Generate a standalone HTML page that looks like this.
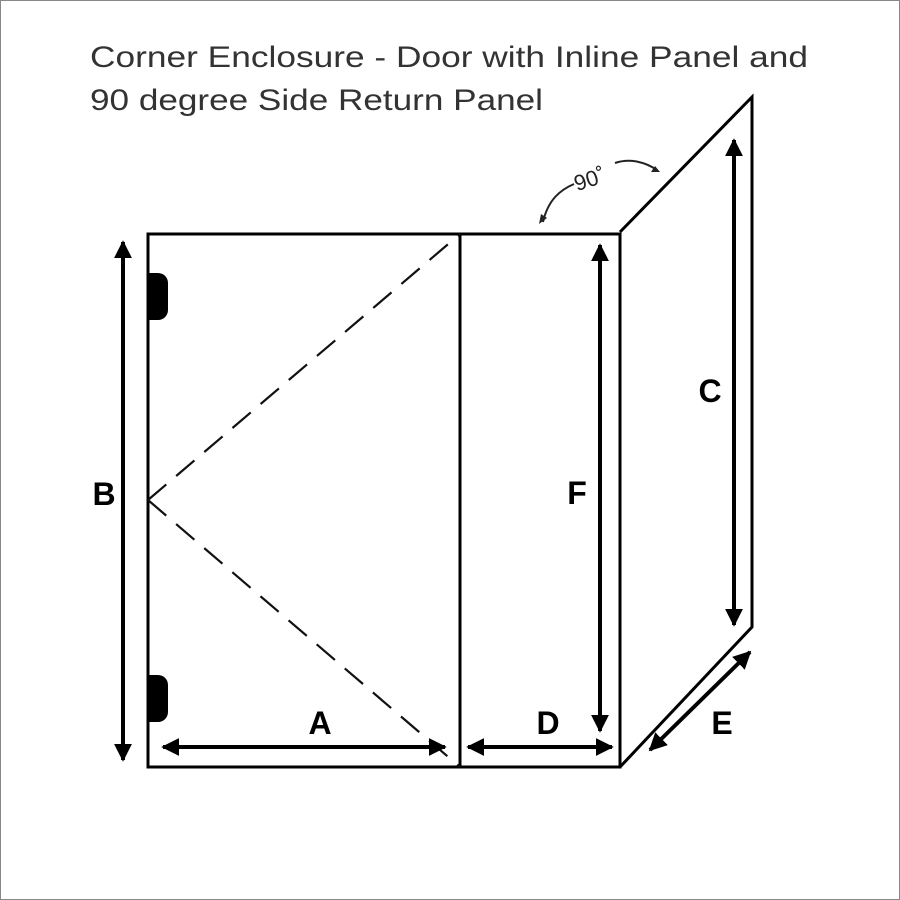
<!DOCTYPE html>
<html><head><meta charset="utf-8"><style>html,body{margin:0;padding:0;background:#fff}svg{display:block}</style></head><body>
<svg width="900" height="900" viewBox="0 0 900 900" xmlns="http://www.w3.org/2000/svg">
<defs>
<marker id="ah" viewBox="0 0 10 10" refX="9" refY="5" markerWidth="4.5" markerHeight="4.5" orient="auto-start-reverse" markerUnits="strokeWidth"><path d="M0,0 L10,5 L0,10 z" fill="#000"/></marker>
</defs>
<rect x="0.5" y="0.5" width="899" height="899" fill="#fff" stroke="#888" stroke-width="1"/>
<g font-family="Liberation Sans, sans-serif" font-size="30" fill="#333">
<text x="90" y="67" textLength="718" lengthAdjust="spacingAndGlyphs">Corner Enclosure - Door with Inline Panel and</text>
<text x="90" y="110" textLength="453" lengthAdjust="spacingAndGlyphs">90 degree Side Return Panel</text>
</g>
<g stroke="#000" fill="none" stroke-width="3">
<rect x="148" y="234" width="472" height="533"/>
<line x1="460" y1="234" x2="460" y2="767"/>
<polyline points="620,232 752,97 752,627 620,767"/>
</g>
<g stroke="#111" stroke-width="2.2" stroke-dasharray="24,13" fill="none">
<line x1="148" y1="500" x2="460" y2="234"/>
<line x1="148" y1="500" x2="460" y2="767"/>
</g>
<path d="M148,273 h10 a10,10 0 0 1 10,10 v27 a10,10 0 0 1 -10,10 h-10 z" fill="#000"/>
<path d="M148,675 h10 a10,10 0 0 1 10,10 v27 a10,10 0 0 1 -10,10 h-10 z" fill="#000"/>
<g stroke="#000" stroke-width="4" fill="none" marker-start="url(#ah)" marker-end="url(#ah)">
<line x1="123" y1="242" x2="123" y2="760"/>
<line x1="163" y1="747" x2="445" y2="747"/>
<line x1="468" y1="747" x2="612" y2="747"/>
<line x1="600" y1="245" x2="600" y2="731"/>
<line x1="734" y1="140" x2="734" y2="625"/>
<line x1="650" y1="750" x2="750" y2="652"/>
</g>
<path d="M543,222 C548,200 560,190 574,184" stroke="#222" stroke-width="2" fill="none"/>
<path d="M539,224 l2,-10 l6,4 z" fill="#222"/>
<path d="M615,163 C630,158 645,162 657,170" stroke="#222" stroke-width="2" fill="none"/>
<path d="M660,172 l-9,0 l4,-6 z" fill="#222"/>
<text x="590" y="186" font-family="Liberation Sans, sans-serif" font-size="22" fill="#222" transform="rotate(-18 592 180)" text-anchor="middle">90˚</text>
<g font-family="Liberation Sans, sans-serif" font-weight="bold" font-size="32" fill="#000" text-anchor="middle">
<text x="104" y="505">B</text>
<text x="320" y="734">A</text>
<text x="548" y="734">D</text>
<text x="577" y="504">F</text>
<text x="710" y="402">C</text>
<text x="722" y="734">E</text>
</g>
</svg>
</body></html>
